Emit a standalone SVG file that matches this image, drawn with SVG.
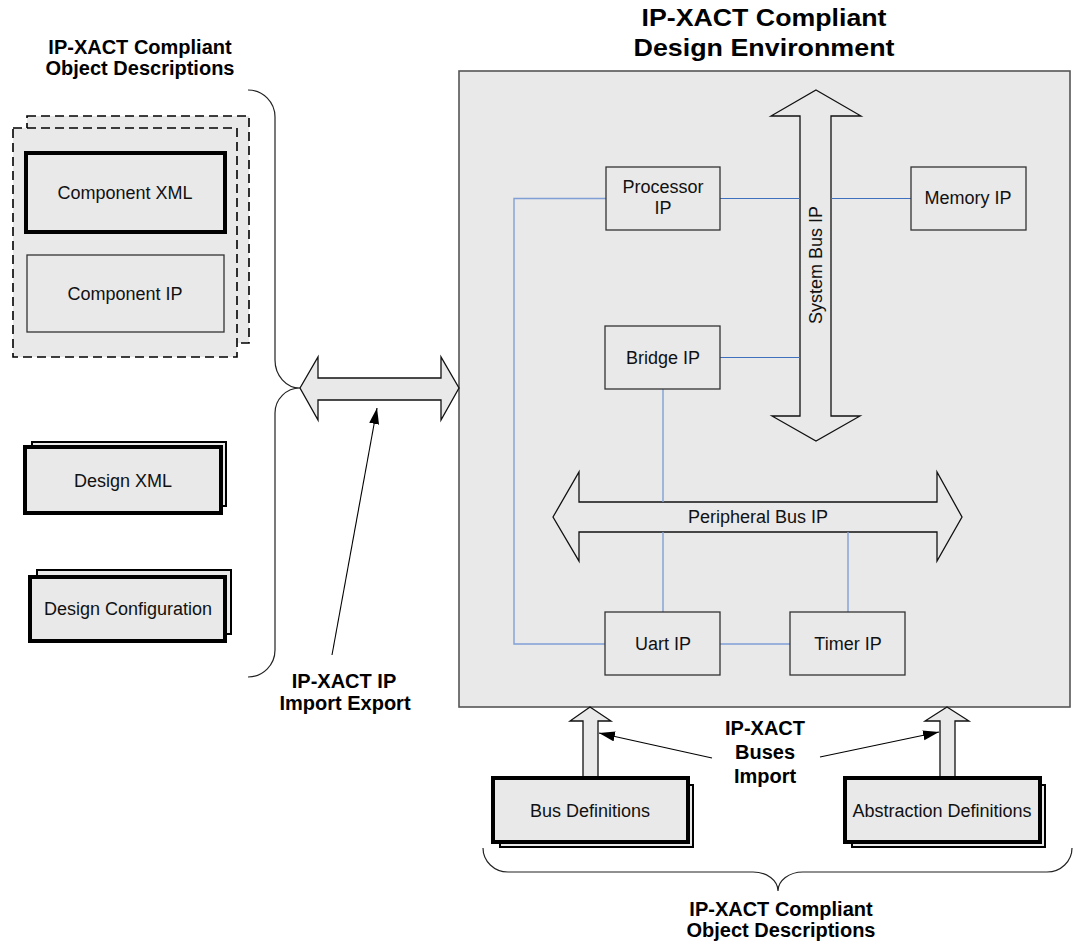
<svg xmlns="http://www.w3.org/2000/svg" width="1083" height="946" viewBox="0 0 1083 946">
<defs>
<marker id="ah" markerUnits="userSpaceOnUse" markerWidth="17" markerHeight="11" refX="16" refY="5" orient="auto"><path d="M0,0 L16,5 L0,10 z" fill="#000"/></marker>
<style>
text{font-family:"Liberation Sans",Arial,sans-serif;fill:#111;text-anchor:middle}
.lbl{font-size:18px}
.hd{font-size:20px;font-weight:bold;fill:#000}
.ttl{font-size:24px;font-weight:bold;fill:#000}
.box{fill:#e9e9e9;stroke:#333;stroke-width:1.3}
.thick{fill:#e9e9e9;stroke:#000;stroke-width:4}
.back{fill:#e9e9e9;stroke:#000;stroke-width:2}
.dash{fill:#e9e9e9;stroke:#000;stroke-width:1.6;stroke-dasharray:9 5}
.barrow{fill:#e9e9e9;stroke:#111;stroke-width:1.3;stroke-linejoin:miter}
.brace{fill:none;stroke:#222;stroke-width:1.2}
.wire{fill:none;stroke:#3f70c0;stroke-width:1}
.wire2{fill:none;stroke:#7f9fd6;stroke-width:1.4}
.ptr{fill:none;stroke:#000;stroke-width:1.1;marker-end:url(#ah)}
</style>
</defs>
<rect width="1083" height="946" fill="#fff"/>

<!-- titles -->
<g id="title-env">
<text class="ttl" x="764" y="26" textLength="245" lengthAdjust="spacingAndGlyphs">IP-XACT Compliant</text>
<text class="ttl" x="764" y="56" textLength="261" lengthAdjust="spacingAndGlyphs">Design Environment</text>
</g>
<g id="title-left">
<text class="hd" x="140" y="54">IP-XACT Compliant</text>
<text class="hd" x="140" y="75">Object Descriptions</text>
</g>

<!-- main environment -->
<g id="environment">
<rect x="459" y="71" width="611" height="636" fill="#e9e9e9" stroke="#555" stroke-width="1.6"/>
</g>

<!-- left stacks -->
<g id="component-stack">
<rect class="dash" x="27" y="116" width="222" height="227"/>
<rect class="dash" x="13" y="128" width="224" height="229"/>
</g>
<g id="component-xml">
<rect class="thick" x="26" y="153" width="199" height="79"/>
<text class="lbl" x="125" y="199">Component XML</text>
</g>
<g id="component-ip">
<rect class="box" x="27" y="255" width="197" height="77" stroke="#555"/>
<text class="lbl" x="125" y="300">Component IP</text>
</g>
<g id="design-xml">
<rect class="back" x="32" y="442" width="194" height="64"/>
<rect class="thick" x="25" y="447" width="196" height="66"/>
<text class="lbl" x="123" y="487">Design XML</text>
</g>
<g id="design-config">
<rect class="back" x="37" y="570" width="194" height="64"/>
<rect class="thick" x="30" y="577" width="195" height="64"/>
<text class="lbl" x="128" y="615">Design Configuration</text>
</g>

<!-- braces -->
<g id="brace-left">
<path class="brace" d="M248,90 A27,27 0 0 1 275,117 L275,360 A25,28 0 0 0 300,388 A25,25 0 0 0 275,413 L275,650 A27,27 0 0 1 248,677"/>
</g>
<g id="brace-bottom">
<path class="brace" d="M483,848 A25,24 0 0 0 508,872 L753,872 A25,19 0 0 1 778,891 A25,19 0 0 1 803,872 L1047,872 A25,24 0 0 0 1072,848"/>
</g>

<!-- import/export arrow -->
<g id="ip-import-export">
<polygon class="barrow" points="300,388 318,357 318,378 441,378 441,357 459,388 441,420 441,400 318,400 318,420"/>
</g>

<!-- buses -->
<g id="system-bus">
<polygon class="barrow" points="816,90 861,116 831,116 831,416 860,416 816,441 772,416 800,416 800,116 771,116"/>
<text class="lbl" transform="translate(822,265) rotate(-90)">System Bus IP</text>
</g>
<g id="peripheral-bus">
<polygon class="barrow" points="553,517 579,472 579,502 937,502 937,472 962,517 937,561 937,532 579,532 579,561"/>
<text class="lbl" x="758" y="523">Peripheral Bus IP</text>
</g>

<!-- connectors -->
<g id="connectors">
<path class="wire" d="M720,198.5 H800 M831,198.5 H911"/>
<path class="wire2" d="M606,198.5 H514 V644 H605"/>
<path class="wire" d="M720,357.5 H800" stroke="#6a84b0"/>
<path class="wire2" d="M663,389 V502 M663,532 V612 M848,532 V612 M720,644 H790"/>
<path class="ptr" d="M332,655 L377,408"/>
<path class="ptr" d="M712,758 L599,733"/>
<path class="ptr" d="M820,757 L939,732"/>
</g>

<!-- inner IP blocks -->
<g id="processor-ip">
<rect class="box" x="606" y="167" width="114" height="63"/>
<text class="lbl" x="663" y="193">Processor</text>
<text class="lbl" x="663" y="214">IP</text>
</g>
<g id="memory-ip">
<rect class="box" x="911" y="167" width="115" height="63"/>
<text class="lbl" x="968" y="204">Memory IP</text>
</g>
<g id="bridge-ip">
<rect class="box" x="605" y="326" width="115" height="63"/>
<text class="lbl" x="663" y="364">Bridge IP</text>
</g>
<g id="uart-ip">
<rect class="box" x="605" y="612" width="115" height="63"/>
<text class="lbl" x="663" y="650">Uart IP</text>
</g>
<g id="timer-ip">
<rect class="box" x="790" y="612" width="115" height="63"/>
<text class="lbl" x="848" y="650">Timer IP</text>
</g>

<!-- bus import arrows -->
<g id="bus-import-left">
<polygon class="barrow" points="590,707 611,721 598,721 598,778 583,778 583,721 570,721" fill="#e4e4e4"/>
</g>
<g id="bus-import-right">
<polygon class="barrow" points="947,707 969,721 955,721 955,778 940,778 940,721 925,721" fill="#e4e4e4"/>
</g>

<g id="bus-definitions">
<rect class="back" x="500" y="785" width="193" height="62"/>
<rect class="thick" x="493" y="778" width="195" height="64"/>
<text class="lbl" x="590" y="817">Bus Definitions</text>
</g>
<g id="abstraction-definitions">
<rect class="back" x="852" y="785" width="193" height="62"/>
<rect class="thick" x="845" y="778" width="195" height="64"/>
<text class="lbl" x="942" y="817">Abstraction Definitions</text>
</g>

<!-- labels -->
<g id="label-import-export">
<text class="hd" x="344" y="688">IP-XACT IP</text>
<text class="hd" x="345" y="710">Import Export</text>
</g>
<g id="label-buses-import">
<text class="hd" x="765" y="735">IP-XACT</text>
<text class="hd" x="765" y="759">Buses</text>
<text class="hd" x="765" y="783">Import</text>
</g>
<g id="label-bottom">
<text class="hd" x="781" y="916">IP-XACT Compliant</text>
<text class="hd" x="781" y="937">Object Descriptions</text>
</g>
</svg>
